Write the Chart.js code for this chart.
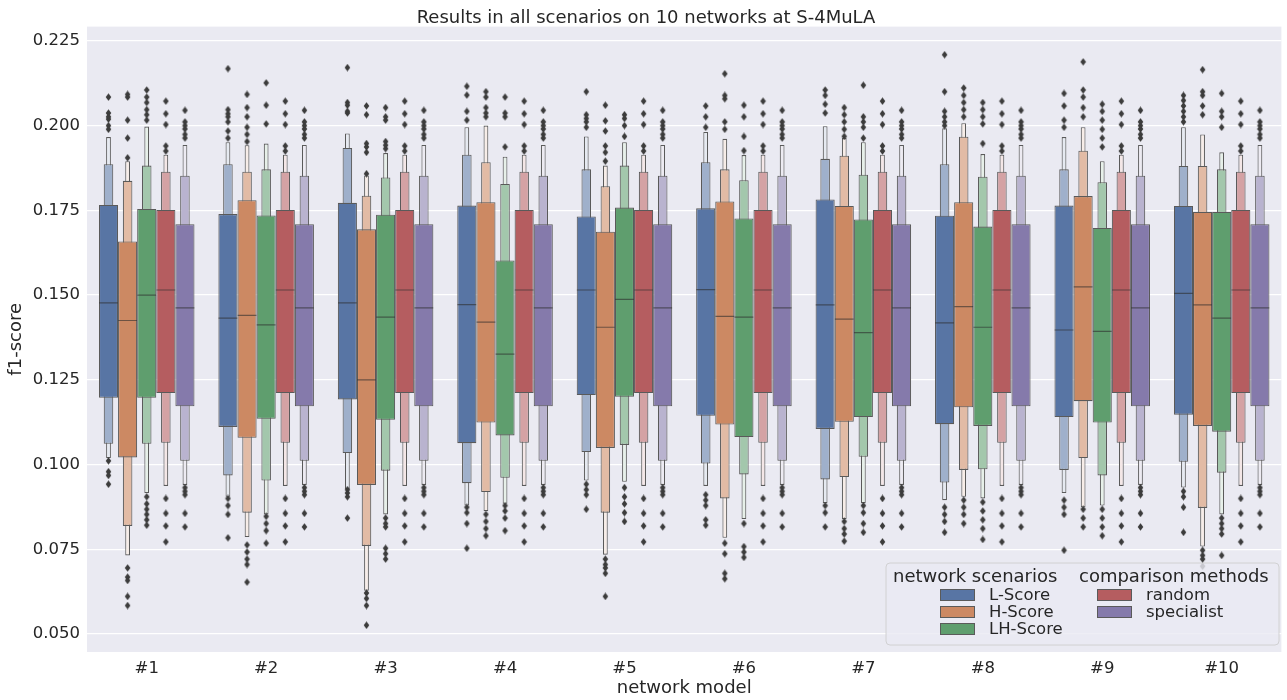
<!DOCTYPE html>
<html><head><meta charset="utf-8">
<script src="https://cdn.jsdelivr.net/npm/chart.js@4/dist/chart.umd.min.js"></script>
<style>html,body{margin:0;padding:0;overflow:hidden;background:#fff}</style>
</head><body>
<canvas id="c" width="1292" height="700"></canvas>
<script>
// ---------------- data ----------------
const networks = ['#1','#2','#3','#4','#5','#6','#7','#8','#9','#10'];
const scenarioNames = ['L-Score','H-Score','LH-Score'];
const methodNames = ['random','specialist'];
const yTicks = [0.050,0.075,0.100,0.125,0.150,0.175,0.200,0.225];
const chartTitle = 'Results in all scenarios on 10 networks at S-4MuLA';
const xTitle = 'network model';
const yTitle = 'f1-score';
const legendTitles = ['network scenarios','comparison methods'];

// per network: [median, box lo, box hi, level2 lo, level2 hi, level3 lo, level3 hi]
const lScore = [
  [0.1477,0.1197,0.1766,0.1061,0.1886,0.1019,0.1966],
  [0.1432,0.1111,0.1739,0.0968,0.1886,0.0905,0.1951],
  [0.1477,0.1192,0.1772,0.1034,0.1934,0.0928,0.1977],
  [0.1472,0.1063,0.1764,0.0945,0.1914,0.0879,0.1995],
  [0.1515,0.1205,0.1732,0.1037,0.1871,0.0953,0.1968],
  [0.1516,0.1144,0.1756,0.1003,0.1892,0.0937,0.1981],
  [0.1471,0.1105,0.1782,0.0956,0.1902,0.0886,0.1998],
  [0.1418,0.1119,0.1734,0.0947,0.1886,0.0895,0.1992],
  [0.1397,0.1140,0.1764,0.0984,0.1871,0.0916,0.1966],
  [0.1505,0.1147,0.1763,0.1008,0.1881,0.0932,0.1995]
];
const hScore = [
  [0.1425,0.1021,0.1658,0.0819,0.1837,0.0732,0.1895],
  [0.1440,0.1079,0.1780,0.0858,0.1864,0.0786,0.1942],
  [0.1250,0.0940,0.1694,0.0760,0.1793,0.0628,0.1853],
  [0.1420,0.1124,0.1774,0.0919,0.1892,0.0863,0.2000],
  [0.1405,0.1049,0.1687,0.0858,0.1821,0.0734,0.1882],
  [0.1437,0.1118,0.1776,0.0900,0.1871,0.0784,0.1961],
  [0.1429,0.1126,0.1763,0.0963,0.1911,0.0839,0.1963],
  [0.1466,0.1169,0.1774,0.0984,0.1967,0.0905,0.2007],
  [0.1524,0.1187,0.1792,0.1019,0.1926,0.0874,0.1995],
  [0.1471,0.1114,0.1745,0.0872,0.1881,0.0758,0.1974]
];
const lhScore = [
  [0.1500,0.1197,0.1754,0.1061,0.1882,0.0916,0.1997],
  [0.1412,0.1135,0.1735,0.0953,0.1871,0.0853,0.1947],
  [0.1435,0.1132,0.1737,0.0982,0.1847,0.0853,0.1919],
  [0.1326,0.1086,0.1602,0.0961,0.1828,0.0884,0.1908],
  [0.1487,0.1200,0.1758,0.1058,0.1882,0.0949,0.1951],
  [0.1435,0.1081,0.1726,0.0971,0.1839,0.0839,0.1913],
  [0.1389,0.1140,0.1723,0.1023,0.1855,0.0886,0.1951],
  [0.1405,0.1114,0.1702,0.0986,0.1849,0.0900,0.1916],
  [0.1393,0.1124,0.1698,0.0968,0.1833,0.0879,0.1895],
  [0.1432,0.1097,0.1745,0.0976,0.1871,0.0853,0.1921]
];
// the comparison methods give the same distribution on every network
const randomBox     = [0.1515,0.1211,0.1751,0.1064,0.1864,0.0937,0.1914];
const specialistBox = [0.1462,0.1172,0.1709,0.1011,0.1852,0.0940,0.1943];

const lScoreOutliers = [
  [0.2084,0.2037,0.2026,0.2019,0.2000,0.1989,0.1011,0.0979,0.0968,0.0942],
  [0.2168,0.2047,0.2035,0.2026,0.2011,0.1984,0.1963,0.0900,0.0879,0.0853,0.0784],
  [0.2171,0.2068,0.2060,0.2042,0.2037,0.0926,0.0916,0.0905,0.0842],
  [0.2116,0.2090,0.2042,0.2016,0.0874,0.0858,0.0826,0.0753],
  [0.2100,0.2032,0.2021,0.2011,0.1995,0.0942,0.0926,0.0911,0.0868],
  [0.2058,0.2026,0.1995,0.0911,0.0895,0.0879,0.0837,0.0821],
  [0.2105,0.2089,0.2063,0.2037,0.0879,0.0858,0.0816],
  [0.2209,0.2100,0.2042,0.2026,0.2011,0.2000,0.0874,0.0853,0.0832,0.0800],
  [0.2095,0.2058,0.2016,0.1995,0.0895,0.0874,0.0853,0.0747],
  [0.2089,0.2074,0.2058,0.2042,0.2026,0.2011,0.0921,0.0905,0.0874,0.0800]
];
const hScoreOutliers = [
  [0.2092,0.2084,0.2016,0.1963,0.1905,0.0695,0.0668,0.0658,0.0611,0.0584],
  [0.2092,0.2053,0.2026,0.1995,0.1974,0.1953,0.0763,0.0742,0.0721,0.0705,0.0653],
  [0.2058,0.2032,0.1947,0.1937,0.1921,0.1858,0.0621,0.0605,0.0584,0.0526],
  [0.2100,0.2084,0.2053,0.2037,0.2026,0.0853,0.0832,0.0811,0.0790],
  [0.2060,0.2014,0.1984,0.1940,0.1921,0.1895,0.0721,0.0705,0.0695,0.0679,0.0611],
  [0.2153,0.2089,0.2079,0.2011,0.1989,0.0768,0.0737,0.0679,0.0663],
  [0.2053,0.2032,0.2011,0.1989,0.1968,0.0832,0.0811,0.0795,0.0774],
  [0.2111,0.2089,0.2068,0.2047,0.2026,0.0895,0.0874,0.0853,0.0826],
  [0.2188,0.2105,0.2084,0.2053,0.2026,0.0868,0.0842,0.0816],
  [0.2165,0.2100,0.2089,0.2058,0.2032,0.0747,0.0732,0.0721,0.0700]
];
const lhScoreOutliers = [
  [0.2105,0.2084,0.2068,0.2047,0.2032,0.2016,0.0905,0.0884,0.0868,0.0853,0.0837,0.0821],
  [0.2126,0.2060,0.2005,0.0847,0.0826,0.0805,0.0768],
  [0.2053,0.2026,0.2016,0.1953,0.1942,0.1932,0.0842,0.0826,0.0816,0.0753,0.0737,0.0721],
  [0.2084,0.2037,0.2026,0.1937,0.0879,0.0863,0.0842,0.0805],
  [0.2032,0.2021,0.2000,0.1968,0.0932,0.0905,0.0884,0.0858,0.0832],
  [0.2060,0.2026,0.1968,0.1926,0.0826,0.0758,0.0742,0.0726],
  [0.2119,0.2026,0.2011,0.1995,0.1963,0.0879,0.0858,0.0826,0.0800],
  [0.2068,0.2047,0.2026,0.2005,0.1947,0.0889,0.0863,0.0837,0.0811,0.0779],
  [0.2063,0.2042,0.2016,0.1989,0.1963,0.1937,0.0868,0.0842,0.0816,0.0790],
  [0.2095,0.2042,0.2026,0.1995,0.0842,0.0826,0.0811,0.0795,0.0732]
];
const randomOutliers     = [0.2072,0.2035,0.2003,0.1940,0.1925,0.0900,0.0856,0.0819,0.0772];
const specialistOutliers = [0.2045,0.2011,0.2000,0.1990,0.1974,0.1963,0.0932,0.0921,0.0911,0.0856,0.0816];

// ---------------- styling ----------------
const baseColors = ['#5875A4','#CC8963','#5F9E6E','#B55D60','#857AAB'];
const levelLight = [0, 0.425, 0.85];
const levelWidth = [1, 0.5, 0.25];
const edgeGray = '#5a5a5a';
const textColor = '#262626';
const FONT = '"DejaVu Sans", Verdana, sans-serif';

function mixWhite(hex, t) {
  const n = parseInt(hex.slice(1), 16);
  const c = [(n >> 16) & 255, (n >> 8) & 255, n & 255].map(v => Math.round(v + (255 - v) * t));
  return 'rgb(' + c.join(',') + ')';
}

const seriesNames = scenarioNames.concat(methodNames);
const seriesBoxes = [lScore, hScore, lhScore,
  networks.map(() => randomBox), networks.map(() => specialistBox)];
const seriesOutliers = [lScoreOutliers, hScoreOutliers, lhScoreOutliers,
  networks.map(() => randomOutliers), networks.map(() => specialistOutliers)];

const nSeries = seriesNames.length;
const catPct = 0.8;
const slot = catPct / nSeries;
const dodge = s => (s - (nSeries - 1) / 2) * slot;

// thin diamond marker (like matplotlib 'd')
const diamond = document.createElement('canvas');
diamond.width = 7; diamond.height = 8;
(function () {
  const g = diamond.getContext('2d');
  g.fillStyle = '#3c3c3c';
  g.beginPath(); g.moveTo(3.5, 0.3); g.lineTo(6.3, 4); g.lineTo(3.5, 7.7); g.lineTo(0.7, 4); g.closePath(); g.fill();
})();

const datasets = [];
seriesNames.forEach((name, s) => {
  const boxes = seriesBoxes[s];
  for (let k = 0; k < 3; k++) {
    datasets.push({
      type: 'bar', label: name + ' level ' + (k + 1),
      stack: 's' + s,
      data: boxes.map((b, i) => ({x: i, y: [b[1 + 2 * k], b[2 + 2 * k]]})),
      backgroundColor: mixWhite(baseColors[s], levelLight[k]),
      borderColor: edgeGray, borderWidth: 1.1, borderSkipped: false,
      barPercentage: levelWidth[k], categoryPercentage: catPct,
      order: 10 + k
    });
  }
});
seriesNames.forEach((name, s) => {
  const boxes = seriesBoxes[s];
  datasets.push({
    type: 'scatter', label: name + ' median',
    data: boxes.map((b, i) => ({x: i + dodge(s), y: b[0]})),
    pointStyle: 'line', pointRadius: 9.4, pointBorderColor: 'rgba(45,45,45,0.6)',
    pointBorderWidth: 1.2, order: 2
  });
  const pts = [];
  seriesOutliers[s].forEach((arr, i) => arr.forEach(v => pts.push({x: i + dodge(s), y: v})));
  datasets.push({
    type: 'scatter', label: name + ' outliers',
    data: pts, pointStyle: diamond, order: 1
  });
});

const bgPlugin = {
  id: 'bg',
  beforeDraw(chart) {
    const {ctx, chartArea: a} = chart;
    ctx.save();
    ctx.fillStyle = '#fff'; ctx.fillRect(0, 0, chart.width, chart.height);
    ctx.fillStyle = '#EAEAF2'; ctx.fillRect(a.left, a.top, a.right - a.left, a.bottom - a.top);
    ctx.restore();
  }
};

const legendPlugin = {
  id: 'boxLegend',
  afterDraw(chart) {
    const ctx = chart.ctx;
    ctx.save();
    const x0 = 886, y0 = 563, w = 393, h = 82, r = 4;
    ctx.beginPath();
    ctx.moveTo(x0 + r, y0); ctx.lineTo(x0 + w - r, y0); ctx.arcTo(x0 + w, y0, x0 + w, y0 + r, r);
    ctx.lineTo(x0 + w, y0 + h - r); ctx.arcTo(x0 + w, y0 + h, x0 + w - r, y0 + h, r);
    ctx.lineTo(x0 + r, y0 + h); ctx.arcTo(x0, y0 + h, x0, y0 + h - r, r);
    ctx.lineTo(x0, y0 + r); ctx.arcTo(x0, y0, x0 + r, y0, r); ctx.closePath();
    ctx.fillStyle = 'rgba(234,234,242,0.8)'; ctx.fill();
    ctx.strokeStyle = 'rgba(204,204,204,0.85)'; ctx.lineWidth = 1; ctx.stroke();
    ctx.fillStyle = textColor; ctx.textBaseline = 'middle'; ctx.textAlign = 'left';
    ctx.font = '18px ' + FONT;
    ctx.fillText(legendTitles[0], 893, 577);
    ctx.fillText(legendTitles[1], 1079, 577);
    ctx.font = '16.5px ' + FONT;
    const rows = [595, 612, 629];
    const entry = (name, color, px, tx, ry) => {
      ctx.fillStyle = color; ctx.fillRect(px, ry - 5.5, 35, 11);
      ctx.strokeStyle = edgeGray; ctx.lineWidth = 1; ctx.strokeRect(px + 0.5, ry - 5.5, 34, 11);
      ctx.fillStyle = textColor; ctx.fillText(name, tx, ry + 1);
    };
    scenarioNames.forEach((n, i) => entry(n, baseColors[i], 940, 989, rows[i]));
    methodNames.forEach((n, i) => entry(n, baseColors[3 + i], 1097, 1146, rows[i]));
    ctx.restore();
  }
};

new Chart(document.getElementById('c'), {
  type: 'bar',
  data: {datasets},
  options: {
    responsive: false, animation: false, events: [],
    layout: {padding: 0},
    plugins: {
      legend: {display: false}, tooltip: {enabled: false},
      title: {display: true, text: chartTitle, color: textColor,
        font: {family: FONT, size: 18, weight: 'normal'}, padding: {top: 8, bottom: -3}}
    },
    scales: {
      x: {
        type: 'linear', position: 'bottom', offset: false, min: -0.5, max: networks.length - 0.5,
        afterBuildTicks: s => { s.ticks = networks.map((_, i) => ({value: i})); },
        grid: {display: false, drawTicks: false, offset: false}, border: {display: false},
        ticks: {color: textColor, font: {family: FONT, size: 16.5}, padding: 7,
          autoSkip: false, maxRotation: 0, callback: v => networks[Math.round(v)]},
        title: {display: true, text: xTitle, color: textColor, font: {family: FONT, size: 18}, padding: {top: 0, bottom: 1}},
        afterFit: s => { s.height = 48; }
      },
      y: {
        type: 'linear', stacked: false, min: 0.0447, max: 0.2292,
        afterBuildTicks: s => { s.ticks = yTicks.map(v => ({value: v})); },
        grid: {color: '#ffffff', lineWidth: 1.3, drawTicks: false}, border: {display: false},
        ticks: {color: textColor, font: {family: FONT, size: 16.5}, padding: 7, callback: v => Number(v).toFixed(3)},
        title: {display: true, text: yTitle, color: textColor, font: {family: FONT, size: 18}, padding: {top: 6, bottom: 0}},
        afterFit: s => { s.width = 87; }
      }
    }
  },
  plugins: [bgPlugin, legendPlugin]
});
</script>
</body></html>
